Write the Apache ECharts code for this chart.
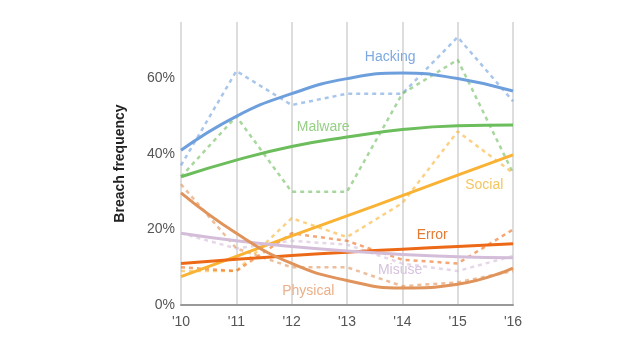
<!DOCTYPE html>
<html><head><meta charset="utf-8">
<script src="https://cdn.jsdelivr.net/npm/echarts@6/dist/echarts.min.js"></script>
<style>html,body{margin:0;padding:0;background:#fff}#c{width:640px;height:360px}</style>
</head><body><div id="c"></div>
<script>
const years = [2010, 2011, 2012, 2013, 2014, 2015, 2016];
const yTicks = [0, 20, 40, 60];

// Actual yearly values (dashed)
const hackingActual  = [37, 62, 53, 56, 56, 71, 54];
const malwareActual  = [34, 50, 30, 30, 56, 65, 35];
const socialActual   = [9, 9, 23, 18, 27, 46, 35];
const errorActual    = [10, 9, 19, 17, 12, 11, 20];
const misuseActual   = [19, 15, 17, 16, 11, 9, 13];
const physicalActual = [32, 15, 10, 10, 5, 6, 9];

// Trend lines (solid)
const hackingTrend  = [41, 50, 56, 60, 61.5, 60, 56.7];
const malwareTrend  = [34, 38.4, 42, 44.5, 46.5, 47.5, 47.7];
const socialTrend   = [7.5, 12.9, 18.3, 23.6, 29, 34.4, 39.8];
const errorTrend    = [11, 12.1, 13.1, 14, 14.8, 15.5, 16.2];
const misuseTrend   = [19, 17, 15.5, 14.3, 13.4, 12.8, 12.5];
const physicalTrend = [29.7, 19, 11, 6.5, 4.5, 5.5, 9.8];

const names = ['Hacking', 'Malware', 'Social', 'Error', 'Misuse', 'Physical'];

const actuals = [hackingActual, malwareActual, socialActual, errorActual, misuseActual, physicalActual];
const trends = [hackingTrend, malwareTrend, socialTrend, errorTrend, misuseTrend, physicalTrend];
const lineColors = ['#6e9fdd', '#6cbd5c', '#f9b233', '#ec6a17', '#d4bdd9', '#e0935a'];
const textColors = ['#7ea9e0', '#95cf84', '#f5c560', '#e57b33', '#d6c2de', '#ebb08a'];
const labelAt = [[2013.78, 65.7], [2012.57, 47.2], [2015.48, 31.8], [2014.54, 18.5], [2013.96, 9.3], [2012.3, 3.7]];

const pair = arr => years.map((y, i) => [y, arr[i]]);
const font = '"Liberation Sans", Arial, sans-serif';

const series = [];
names.forEach((n, k) => {
  series.push({
    name: n + ' actual', type: 'line', data: pair(actuals[k]), symbol: 'none',
    lineStyle: { color: lineColors[k], width: 2.5, type: [4, 4], opacity: 0.6 },
    z: 2, silent: true
  });
});
names.forEach((n, k) => {
  series.push({
    name: n, type: 'line', data: pair(trends[k]), symbol: 'none', smooth: 0.5,
    lineStyle: { color: lineColors[k], width: 3 },
    z: 3, silent: true,
    markPoint: {
      symbol: 'circle', symbolSize: 1,
      itemStyle: { color: 'rgba(0,0,0,0)' },
      label: { show: true, position: 'inside', formatter: n, color: textColors[k], fontSize: 14, fontFamily: font },
      data: [{ coord: labelAt[k] }]
    }
  });
});

const chart = echarts.init(document.getElementById('c'), null, { renderer: 'canvas' });
chart.setOption({
  animation: false,
  backgroundColor: '#fff',
  grid: { left: 181, right: 127, top: 22, bottom: 55 },
  xAxis: {
    type: 'value', min: 2010, max: 2016, interval: 1,
    axisLine: { show: true, lineStyle: { color: '#999', width: 2 } },
    axisTick: { show: false },
    axisLabel: { margin: 10, color: '#555', fontSize: 14, fontFamily: font,
      formatter: v => "'" + String(v).slice(2) },
    splitLine: { show: true, lineStyle: { color: '#ddd', width: 2 } }
  },
  yAxis: {
    type: 'value', min: 0, max: 75, interval: 20,
    name: 'Breach frequency', nameLocation: 'middle', nameGap: 54, nameRotate: 90,
    nameTextStyle: { color: '#222', fontSize: 14, fontWeight: 'bold', fontFamily: font },
    axisLine: { show: false }, axisTick: { show: false },
    axisLabel: { color: '#555', fontSize: 14, fontFamily: font, margin: 6, showMaxLabel: false,
      formatter: v => yTicks.includes(v) ? v + '%' : '' },
    splitLine: { show: false }
  },
  series
});
</script></body></html>
